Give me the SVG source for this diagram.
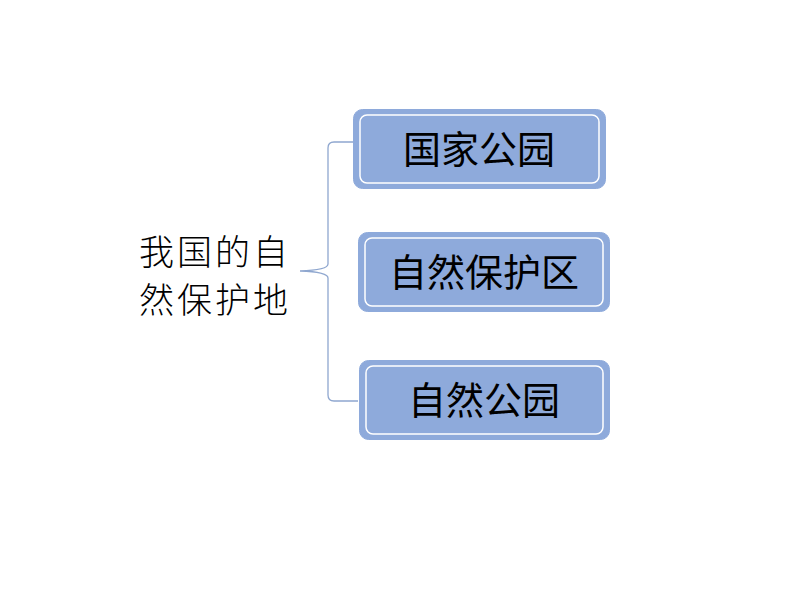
<svg xmlns="http://www.w3.org/2000/svg" width="794" height="596" viewBox="0 0 794 596">
<style>
.box{fill:#8eaadb;stroke:#8eaadb;stroke-width:1}
.inner{fill:none;stroke:#ffffff;stroke-width:1.5}
.lbl{font-family:"Noto Sans CJK SC","Noto Sans",sans-serif;font-size:38px;font-weight:400;fill:#000;text-anchor:middle}
.root{font-family:"Noto Sans CJK SC","Noto Sans",sans-serif;font-size:35px;font-weight:300;fill:#000;letter-spacing:3px}
.conn{fill:none;stroke:#8fa7cf;stroke-width:1.3}
</style>
<rect width="794" height="596" fill="#fff"/>
<g id="connectors">
<path class="conn" d="M353,142 L334,142 Q328,142 328,148 L328,264 Q328,270 300,271 Q328,272 328,278 L328,395 Q328,401 334,401 L358,401"/>
</g>
<g id="root">
<text class="root" x="139" y="265">我国的自</text>
<text class="root" x="139" y="313">然保护地</text>
</g>
<g id="n1">
<rect class="box" x="353.5" y="109.5" width="252" height="79" rx="9"/>
<rect class="inner" x="360" y="115" width="239" height="68" rx="7"/>
<text class="lbl" x="479" y="163">国家公园</text>
</g>
<g id="n2">
<rect class="box" x="358.5" y="232.5" width="251" height="79" rx="9"/>
<rect class="inner" x="365" y="238" width="238" height="68" rx="7"/>
<text class="lbl" x="484" y="286">自然保护区</text>
</g>
<g id="n3">
<rect class="box" x="359.5" y="360.5" width="250" height="79" rx="9"/>
<rect class="inner" x="366" y="366" width="237" height="68" rx="7"/>
<text class="lbl" x="484" y="414">自然公园</text>
</g>
</svg>
